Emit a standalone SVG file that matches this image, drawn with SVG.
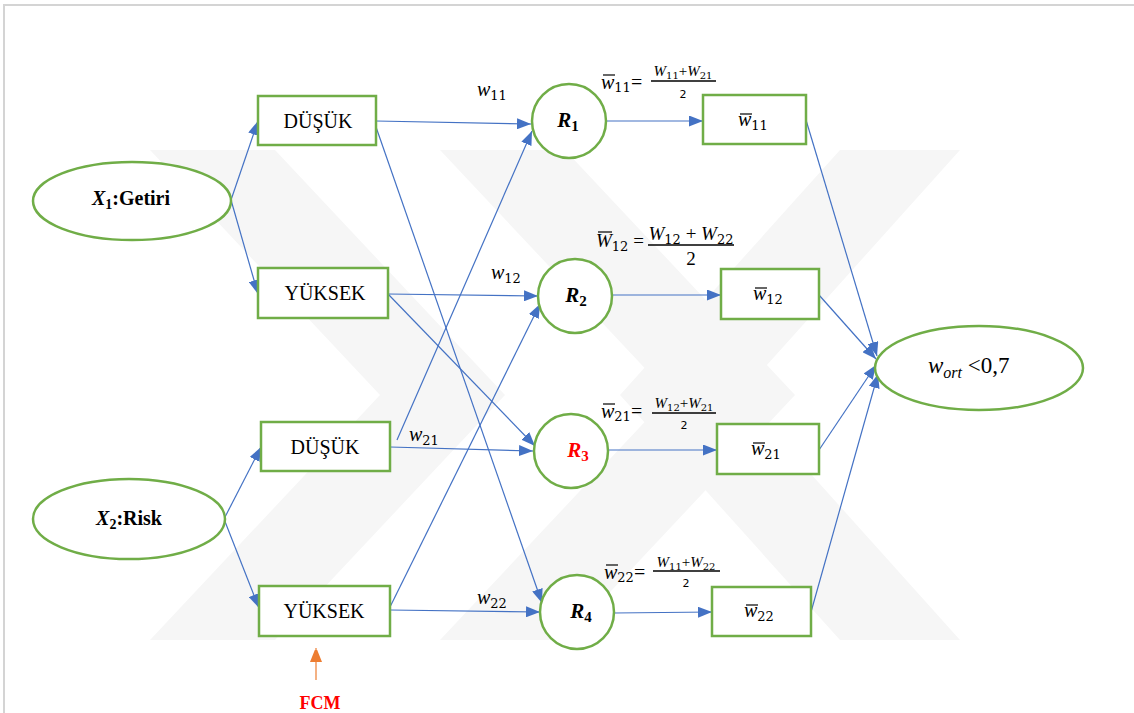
<svg xmlns="http://www.w3.org/2000/svg" width="1134" height="713" viewBox="0 0 1134 713">
<defs>
<style>
.box{fill:#fff;stroke:#70ad47;stroke-width:2.5}
.ell{fill:#fff;stroke:#70ad47;stroke-width:2.5}
.con{stroke:#4472c4;stroke-width:1.2;fill:none;marker-end:url(#ah)}
.lbl{font-family:"Liberation Serif","Times New Roman",serif;font-size:20px;fill:#000}
.m{font-family:"Liberation Serif",serif;font-style:italic;font-size:20px;fill:#000}
.s{font-family:"DejaVu Serif","Liberation Serif",serif;font-style:normal;font-size:13px}
.fn{font-family:"Liberation Serif",serif;font-style:italic;font-size:15px;fill:#000}
.fs{font-family:"DejaVu Serif","Liberation Serif",serif;font-style:normal;font-size:10px}
.bar{stroke:#000;stroke-width:1.2}
.R{font-family:"Liberation Serif",serif;font-style:italic;font-weight:bold;font-size:21px}
.wm{fill:#f6f6f6}
</style>
<marker id="ah" markerUnits="userSpaceOnUse" markerWidth="15" markerHeight="11" refX="14" refY="5.5" orient="auto">
<path d="M0,0 L14,5.5 L0,11 z" fill="#4472c4"/>
</marker>
<marker id="oh" markerUnits="userSpaceOnUse" markerWidth="12" markerHeight="16" refX="14" refY="6" orient="auto">
<path d="M0,0 L15,6 L0,12 z" fill="#ed7d31"/>
</marker>
</defs>
<rect width="1134" height="713" fill="#fff"/>
<g id="frame" stroke="#d4d4d4" stroke-width="2" fill="none">
<path d="M4,713 L4,5 L1134,5"/>
</g>
<g id="watermark">
<polygon class="wm" points="150,150 275,150 505,395 275,640 150,640 380,395"/>
<polygon class="wm" points="440,150 565,150 795,395 565,640 440,640 670,395"/>
<polygon class="wm" points="840,150 960,150 740,395 960,640 840,640 620,395"/>
</g>
<g id="connectors">
<line class="con" x1="231" y1="200" x2="258" y2="121"/>
<line class="con" x1="231" y1="200" x2="258" y2="294"/>
<line class="con" x1="224" y1="519" x2="261" y2="447"/>
<line class="con" x1="224" y1="519" x2="259" y2="608"/>
<line class="con" x1="376" y1="121" x2="531" y2="124"/>
<line class="con" x1="376" y1="127" x2="542" y2="603"/>
<line class="con" x1="388" y1="294" x2="538" y2="296"/>
<line class="con" x1="388" y1="294" x2="535" y2="446"/>
<line class="con" x1="390" y1="447" x2="533" y2="451"/>
<line class="con" x1="397" y1="440" x2="532" y2="131"/>
<line class="con" x1="390" y1="610" x2="540" y2="612"/>
<line class="con" x1="390" y1="607" x2="540" y2="304"/>
<line class="con" x1="605" y1="121" x2="703" y2="121"/>
<line class="con" x1="612" y1="295" x2="721" y2="295"/>
<line class="con" x1="607" y1="450" x2="717" y2="450"/>
<line class="con" x1="614" y1="613" x2="712" y2="612"/>
<line class="con" x1="806" y1="120" x2="877" y2="356"/>
<line class="con" x1="819" y1="295" x2="876" y2="359"/>
<line class="con" x1="819" y1="450" x2="876" y2="365"/>
<line class="con" x1="811" y1="612" x2="878" y2="374"/>
<line x1="316" y1="680" x2="316" y2="648" stroke="#ed7d31" stroke-width="1.2" marker-end="url(#oh)"/>
</g>
<g id="x1">
<ellipse class="ell" cx="132" cy="201" rx="99" ry="39"/>
<text x="131" y="205" text-anchor="middle" font-family="Liberation Serif,serif" font-weight="bold" font-size="20"><tspan font-style="italic">X</tspan><tspan font-size="14" dy="4">1</tspan><tspan dy="-4">:Getiri</tspan></text>
</g>
<g id="x2">
<ellipse class="ell" cx="129" cy="519" rx="96" ry="40"/>
<text x="129" y="525" text-anchor="middle" font-family="Liberation Serif,serif" font-weight="bold" font-size="20"><tspan font-style="italic">X</tspan><tspan font-size="14" dy="4">2</tspan><tspan dy="-4">:Risk</tspan></text>
</g>
<g id="dusuk1"><rect class="box" x="258" y="96" width="118" height="49"/><text class="lbl" x="318" y="128" text-anchor="middle">D&#xDC;&#x15E;&#xDC;K</text></g>
<g id="yuksek1"><rect class="box" x="258" y="268" width="130" height="50"/><text class="lbl" x="325" y="300" text-anchor="middle">Y&#xDC;KSEK</text></g>
<g id="dusuk2"><rect class="box" x="261" y="422" width="129" height="49"/><text class="lbl" x="325" y="454" text-anchor="middle">D&#xDC;&#x15E;&#xDC;K</text></g>
<g id="yuksek2"><rect class="box" x="259" y="586" width="131" height="50"/><text class="lbl" x="324" y="618" text-anchor="middle">Y&#xDC;KSEK</text></g>
<g id="r1"><circle class="ell" cx="569" cy="121" r="37"/><text class="R" x="568" y="127" text-anchor="middle">R<tspan font-size="15" font-style="normal" dy="4">1</tspan></text></g>
<g id="r2"><circle class="ell" cx="575" cy="296" r="37"/><text class="R" x="576" y="302" text-anchor="middle">R<tspan font-size="15" font-style="normal" dy="4">2</tspan></text></g>
<g id="r3"><circle class="ell" cx="571" cy="451" r="37"/><text class="R" x="578" y="457" text-anchor="middle" fill="#ff0000">R<tspan font-size="15" font-style="normal" dy="4">3</tspan></text></g>
<g id="r4"><circle class="ell" cx="577" cy="612" r="37"/><text class="R" x="581" y="618" text-anchor="middle">R<tspan font-size="15" font-style="normal" dy="4">4</tspan></text></g>
<g id="wb11"><rect class="box" x="703" y="95" width="103" height="49"/><text class="m" x="738" y="126">w<tspan class="s" dy="4">11</tspan></text><line class="bar" x1="740" y1="114" x2="752" y2="114"/></g>
<g id="wb12"><rect class="box" x="721" y="269" width="98" height="50"/><text class="m" x="753" y="300">w<tspan class="s" dy="4">12</tspan></text><line class="bar" x1="755" y1="288" x2="767" y2="288"/></g>
<g id="wb21"><rect class="box" x="717" y="424" width="102" height="50"/><text class="m" x="751" y="455">w<tspan class="s" dy="4">21</tspan></text><line class="bar" x1="753" y1="443" x2="765" y2="443"/></g>
<g id="wb22"><rect class="box" x="712" y="587" width="99" height="49"/><text class="m" x="744" y="617">w<tspan class="s" dy="4">22</tspan></text><line class="bar" x1="746" y1="605" x2="758" y2="605"/></g>
<g id="out"><ellipse class="ell" cx="979" cy="368" rx="104" ry="42"/><text x="928" y="373" font-family="Liberation Serif,serif" font-size="23"><tspan font-style="italic">w</tspan><tspan font-style="italic" font-size="16" dy="5">ort</tspan><tspan dy="-5"> &lt;0,7</tspan></text></g>
<g id="labels">
<text class="m" x="477" y="96">w<tspan class="s" dy="4">11</tspan></text>
<text class="m" x="491" y="279">w<tspan class="s" dy="4">12</tspan></text>
<text class="m" x="409" y="441">w<tspan class="s" dy="4">21</tspan></text>
<text class="m" x="477" y="604">w<tspan class="s" dy="4">22</tspan></text>
<text x="320" y="709" text-anchor="middle" font-family="Liberation Serif,serif" font-weight="bold" font-size="18" fill="#ff0000">FCM</text>
</g>
<g id="f1">
<text class="m" x="601" y="89">w<tspan class="s" dy="3">11</tspan><tspan font-style="normal" dy="-3">=</tspan></text>
<line class="bar" x1="603" y1="75" x2="615" y2="75"/>
<line x1="651" y1="81" x2="716" y2="81" stroke="#000" stroke-width="1.3"/>
<text class="fn" x="683" y="76" text-anchor="middle">W<tspan class="fs" dy="3">11</tspan><tspan font-style="normal" dy="-3">+</tspan>W<tspan class="fs" dy="3">21</tspan></text>
<text x="683" y="98" text-anchor="middle" font-family="DejaVu Sans,sans-serif" font-size="11">2</text>
</g>
<g id="f2">
<text x="596" y="247" font-family="Liberation Serif,serif" font-size="19"><tspan font-style="italic">W</tspan><tspan class="s" font-size="13" dy="4">12</tspan><tspan dy="-4"> = </tspan></text>
<line class="bar" x1="598" y1="232" x2="612" y2="232"/>
<line x1="648" y1="245" x2="734" y2="245" stroke="#000" stroke-width="1.3"/>
<text x="691" y="240" text-anchor="middle" font-family="Liberation Serif,serif" font-size="19"><tspan font-style="italic">W</tspan><tspan class="s" font-size="13" dy="4">12</tspan><tspan dy="-4"> + </tspan><tspan font-style="italic">W</tspan><tspan class="s" font-size="13" dy="4">22</tspan></text>
<text x="691" y="265" text-anchor="middle" font-family="Liberation Serif,serif" font-size="19">2</text>
</g>
<g id="f3">
<text class="m" x="601" y="418">w<tspan class="s" dy="3">21</tspan><tspan font-style="normal" dy="-3">=</tspan></text>
<line class="bar" x1="603" y1="404" x2="615" y2="404"/>
<line x1="652" y1="413" x2="716" y2="413" stroke="#000" stroke-width="1.3"/>
<text class="fn" x="684" y="408" text-anchor="middle">W<tspan class="fs" dy="3">12</tspan><tspan font-style="normal" dy="-3">+</tspan>W<tspan class="fs" dy="3">21</tspan></text>
<text x="684" y="429" text-anchor="middle" font-family="DejaVu Sans,sans-serif" font-size="11">2</text>
</g>
<g id="f4">
<text class="m" x="604" y="579">w<tspan class="s" dy="3">22</tspan><tspan font-style="normal" dy="-3">=</tspan></text>
<line class="bar" x1="606" y1="565" x2="618" y2="565"/>
<line x1="653" y1="571" x2="720" y2="571" stroke="#000" stroke-width="1.3"/>
<text class="fn" x="686" y="567" text-anchor="middle">W<tspan class="fs" dy="3">11</tspan><tspan font-style="normal" dy="-3">+</tspan>W<tspan class="fs" dy="3">22</tspan></text>
<text x="686" y="587" text-anchor="middle" font-family="DejaVu Sans,sans-serif" font-size="11">2</text>
</g>
</svg>
